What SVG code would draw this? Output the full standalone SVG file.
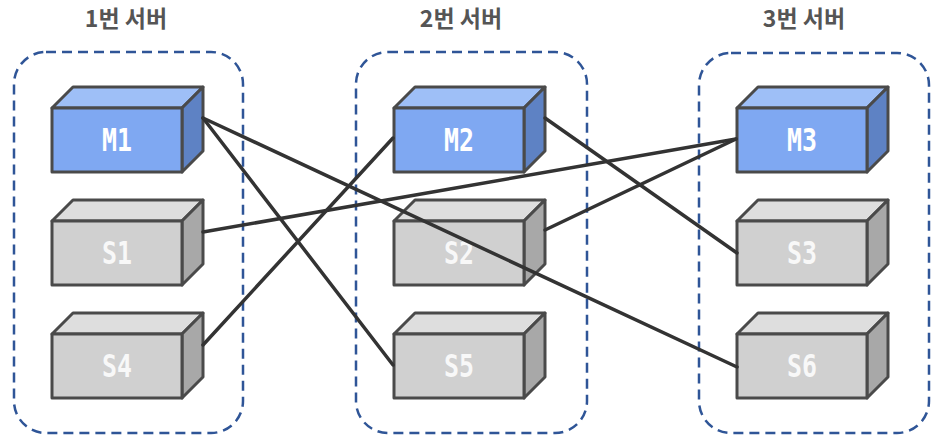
<svg xmlns="http://www.w3.org/2000/svg" width="942" height="444" viewBox="0 0 942 444">
<defs>
<style>
.title{font-family:"Noto Sans CJK KR","Noto Sans",sans-serif;font-weight:bold;font-size:23px;fill:#555555;text-anchor:middle}
.grp{fill:none;stroke:#2f5597;stroke-width:2.5;stroke-dasharray:10 6}
.edge{stroke:#333333;stroke-width:3.5;fill:none;stroke-linecap:round}
.box polygon,.box rect{stroke:#4a4a4a;stroke-width:3;stroke-linejoin:round}
.m .front{fill:#7fa8f2}.m .top{fill:#9ebff7}.m .side{fill:#5e82c4}
.s .front{fill:#d0d0d0}.s .top{fill:#dedede}.s .side{fill:#a8a8a8}
.lbl{font-family:"DejaVu Sans Mono",monospace;font-weight:bold;font-size:32px;text-anchor:middle}
.m .lbl{fill:#ffffff}.s .lbl{fill:#f8f8f8}
</style>
</defs>
<rect width="942" height="444" fill="#ffffff"/>
<g id="titles">
<text class="title" x="126" y="27">1번 서버</text>
<text class="title" x="461" y="27">2번 서버</text>
<text class="title" x="804" y="27">3번 서버</text>
</g>
<g id="server1"><rect class="grp" x="14" y="52" width="229" height="381" rx="32"/></g>
<g id="server2"><rect class="grp" x="356" y="52" width="231" height="381" rx="32"/></g>
<g id="server3"><rect class="grp" x="699" y="53" width="230" height="380" rx="32"/></g>
<g id="M1" class="box m" transform="translate(52,108)"><polygon class="top" points="0,0 21,-21 151,-21 130,0"/><polygon class="side" points="130,0 151,-21 151,43 130,64"/><rect class="front" x="0" y="0" width="130" height="64"/><text class="lbl" x="65" y="43" textLength="30" lengthAdjust="spacingAndGlyphs">M1</text></g>
<g id="S1" class="box s" transform="translate(52,221)"><polygon class="top" points="0,0 21,-21 151,-21 130,0"/><polygon class="side" points="130,0 151,-21 151,43 130,64"/><rect class="front" x="0" y="0" width="130" height="64"/><text class="lbl" x="65" y="43" textLength="30" lengthAdjust="spacingAndGlyphs">S1</text></g>
<g id="S4" class="box s" transform="translate(52,334)"><polygon class="top" points="0,0 21,-21 151,-21 130,0"/><polygon class="side" points="130,0 151,-21 151,43 130,64"/><rect class="front" x="0" y="0" width="130" height="64"/><text class="lbl" x="65" y="43" textLength="30" lengthAdjust="spacingAndGlyphs">S4</text></g>
<g id="M2" class="box m" transform="translate(394,108)"><polygon class="top" points="0,0 21,-21 151,-21 130,0"/><polygon class="side" points="130,0 151,-21 151,43 130,64"/><rect class="front" x="0" y="0" width="130" height="64"/><text class="lbl" x="65" y="43" textLength="30" lengthAdjust="spacingAndGlyphs">M2</text></g>
<g id="S2" class="box s" transform="translate(394,221)"><polygon class="top" points="0,0 21,-21 151,-21 130,0"/><polygon class="side" points="130,0 151,-21 151,43 130,64"/><rect class="front" x="0" y="0" width="130" height="64"/><text class="lbl" x="65" y="43" textLength="30" lengthAdjust="spacingAndGlyphs">S2</text></g>
<g id="S5" class="box s" transform="translate(394,334)"><polygon class="top" points="0,0 21,-21 151,-21 130,0"/><polygon class="side" points="130,0 151,-21 151,43 130,64"/><rect class="front" x="0" y="0" width="130" height="64"/><text class="lbl" x="65" y="43" textLength="30" lengthAdjust="spacingAndGlyphs">S5</text></g>
<g id="M3" class="box m" transform="translate(737,108)"><polygon class="top" points="0,0 21,-21 151,-21 130,0"/><polygon class="side" points="130,0 151,-21 151,43 130,64"/><rect class="front" x="0" y="0" width="130" height="64"/><text class="lbl" x="65" y="43" textLength="30" lengthAdjust="spacingAndGlyphs">M3</text></g>
<g id="S3" class="box s" transform="translate(737,221)"><polygon class="top" points="0,0 21,-21 151,-21 130,0"/><polygon class="side" points="130,0 151,-21 151,43 130,64"/><rect class="front" x="0" y="0" width="130" height="64"/><text class="lbl" x="65" y="43" textLength="30" lengthAdjust="spacingAndGlyphs">S3</text></g>
<g id="S6" class="box s" transform="translate(737,334)"><polygon class="top" points="0,0 21,-21 151,-21 130,0"/><polygon class="side" points="130,0 151,-21 151,43 130,64"/><rect class="front" x="0" y="0" width="130" height="64"/><text class="lbl" x="65" y="43" textLength="30" lengthAdjust="spacingAndGlyphs">S6</text></g>
<g id="connectors">
<line class="edge" x1="203" y1="118" x2="393" y2="365"/>
<line class="edge" x1="203" y1="118" x2="737" y2="367"/>
<line class="edge" x1="203" y1="232" x2="736" y2="139"/>
<line class="edge" x1="203" y1="345" x2="393" y2="138"/>
<line class="edge" x1="545" y1="118" x2="737" y2="253"/>
<line class="edge" x1="545" y1="230" x2="736" y2="139"/>
</g>
</svg>
